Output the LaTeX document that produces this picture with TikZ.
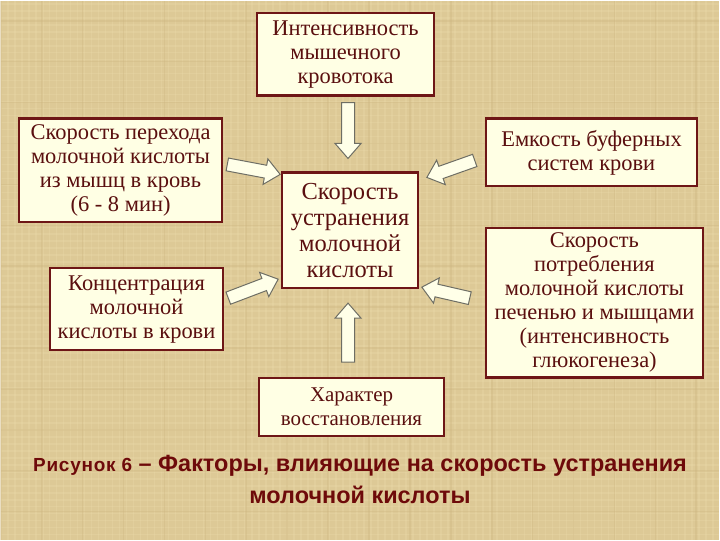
\documentclass[tikz,border=0pt]{standalone}
\usepackage{fontspec}
\setmainfont{Liberation Serif}
\newfontfamily\capfont{Liberation Sans}
\newfontfamily\capfontwide[LetterSpace=4]{Liberation Sans}
\usetikzlibrary{calc}
\definecolor{bg}{RGB}{221,201,150}
\definecolor{bglight}{RGB}{236,220,172}
\definecolor{bgdark}{RGB}{205,182,128}
\definecolor{boxfill}{RGB}{255,255,228}
\definecolor{boxline}{RGB}{110,22,22}
\definecolor{txt}{RGB}{90,15,15}
\definecolor{arrline}{RGB}{110,110,100}
\definecolor{arrfill}{RGB}{255,255,232}
\definecolor{captxt}{RGB}{110,10,10}
\newcommand{\blockarrow}[2]{%
  \draw[barr] ($(#1)!6.5pt!90:(#2)$)
    -- ($(#2)!15pt!(#1)!6.5pt!-90:(#1)$)
    -- ($(#2)!15pt!(#1)!13pt!-90:(#1)$)
    -- (#2)
    -- ($(#2)!15pt!(#1)!13pt!90:(#1)$)
    -- ($(#2)!15pt!(#1)!6.5pt!90:(#1)$)
    -- ($(#1)!6.5pt!-90:(#2)$) -- cycle;}
\begin{document}
\begin{tikzpicture}[x=1pt,y=-1pt,
  box/.style={draw=boxline, line width=2.2pt, fill=boxfill, text=txt, align=center,
    inner sep=0pt, font=\fontsize{22.5}{24}\selectfont},
  barr/.style={draw=arrline, fill=arrfill, line width=1pt, line join=miter},
  weave/.style={line width=1.6pt, opacity=0.3}]
\fill[bg] (0,0) rectangle (720,540);
\foreach \k in {0,7,...,720} {\draw[weave, bglight] (\k,0) -- (\k,540);}
\foreach \k in {3,10,...,540} {\draw[weave, bglight] (0,\k) -- (720,\k);}
\foreach \k in {0,41,...,720} {\draw[weave, bgdark, opacity=0.35] (\k,0) -- (\k,540);}
\foreach \k in {20,61,...,540} {\draw[weave, bgdark, opacity=0.35] (0,\k) -- (720,\k);}
\useasboundingbox (0,0) rectangle (720,540);

\node[box, minimum width=177pt, minimum height=83pt] (top) at (345.5,53.5)
  {Интенсивность\\мышечного\\кровотока};
\node[box, minimum width=204pt, minimum height=104pt] (lt) at (120,170)
  {Скорость перехода\\молочной кислоты\\из мышц в кровь\\(6 - 8 мин)};
\node[box, minimum width=174pt, minimum height=82pt] (lb) at (136,309)
  {Концентрация\\молочной\\кислоты в крови};
\node[box, minimum width=136pt, minimum height=116pt, font=\fontsize{24.5}{26}\selectfont] (c) at (350,230)
  {Скорость\\устранения\\молочной\\кислоты};
\node[box, minimum width=212pt, minimum height=68pt] (rt) at (592,152)
  {Емкость буферных\\систем крови};
\node[box, minimum width=218pt, minimum height=150pt] (rb) at (595,302.5)
  {Скорость\\потребления\\молочной кислоты\\печенью и мышцами\\(интенсивность\\глюкогенеза)};
\node[box, minimum width=185pt, minimum height=58pt, font=\fontsize{21}{24}\selectfont] (bt) at (351.5,407)
  {Характер\\восстановления};

\coordinate (a1s) at (348,102); \coordinate (a1e) at (348,158);
\coordinate (a2s) at (348,362); \coordinate (a2e) at (348,303);
\coordinate (a3s) at (227,164); \coordinate (a3e) at (280,174);
\coordinate (a4s) at (228,298); \coordinate (a4e) at (278,279);
\coordinate (a5s) at (475,160); \coordinate (a5e) at (427,177);
\coordinate (a6s) at (470,298); \coordinate (a6e) at (422,287);
\blockarrow{a1s}{a1e}
\blockarrow{a2s}{a2e}
\blockarrow{a3s}{a3e}
\blockarrow{a4s}{a4e}
\blockarrow{a5s}{a5e}
\blockarrow{a6s}{a6e}

\node[font=\capfont\bfseries\fontsize{23.5}{32}\selectfont, text=captxt, align=center] (cap) at (360,480)
  {{\capfontwide\bfseries\fontsize{19}{20}\selectfont Рисунок 6} – Факторы, влияющие на скорость устранения\\
   молочной кислоты};
\end{tikzpicture}
\end{document}
